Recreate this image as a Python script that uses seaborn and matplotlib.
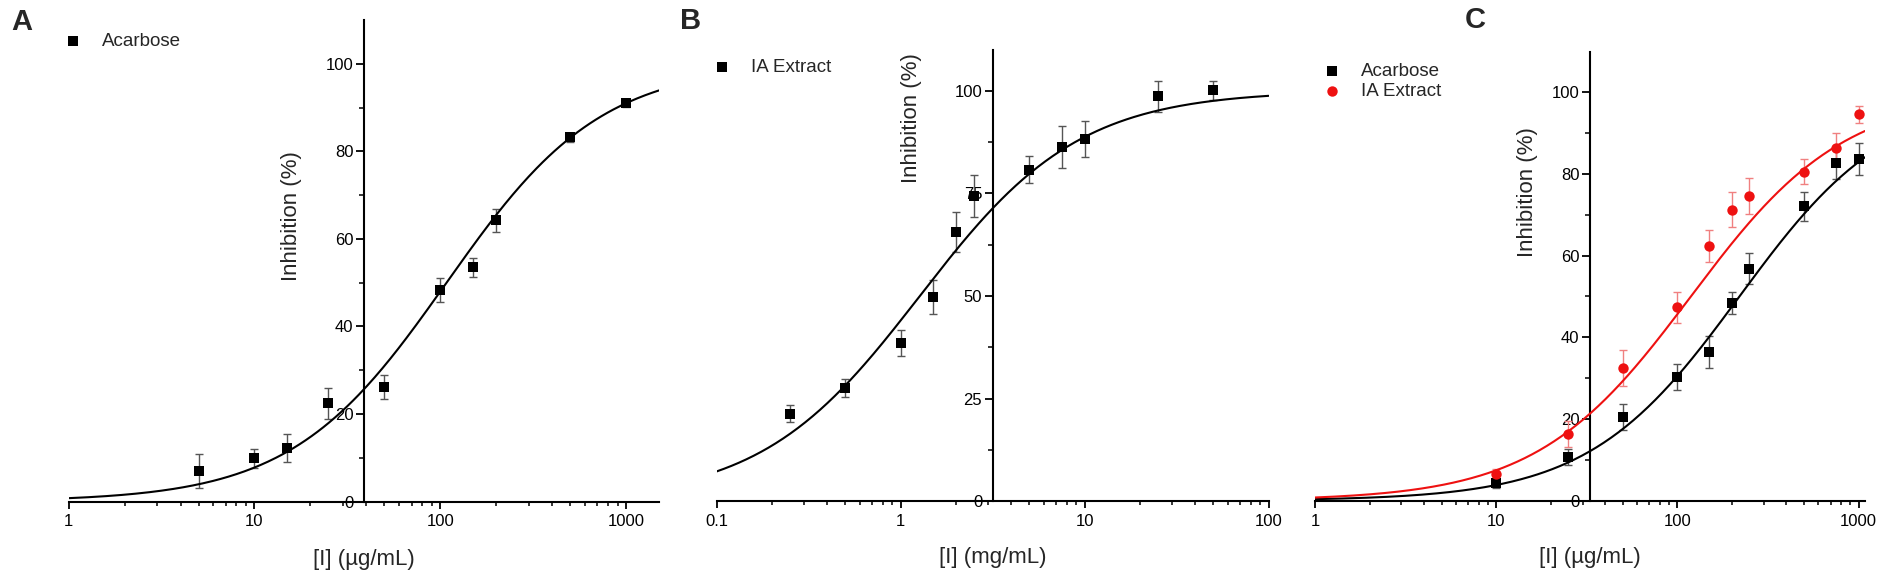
import numpy as np
import pandas as pd
import matplotlib
matplotlib.use('Agg')
import matplotlib.pyplot as plt
import matplotlib.ticker as mticker
import seaborn as sns

# ---- data ----
# A: acarbose (ug/mL)
a_conc = [5, 10, 15, 25, 50, 100, 150, 200, 500, 1000]
a_inh = [6.9, 9.9, 12.2, 22.4, 26.2, 48.3, 53.5, 64.2, 83.2, 91.1]
a_err = [3.9, 2.2, 3.2, 3.6, 2.8, 2.7, 2.1, 2.7, 1.0, 0.9]
a_fit = {'ic50': 108, 'hill': 1.04}

# B: IA extract (mg/mL)
b_conc = [0.25, 0.5, 1, 1.5, 2, 2.5, 5, 7.5, 10, 25, 50]
b_inh = [21.4, 27.6, 38.5, 49.8, 65.6, 74.4, 80.8, 86.3, 88.3, 98.6, 100.1]
b_err = [2.0, 2.1, 3.2, 4.1, 4.9, 5.1, 3.3, 5.1, 4.4, 3.7, 2.3]
b_fit = {'ic50': 1.27, 'hill': 1.0}

# C: both on the ug/mL scale
c_conc = [10, 25, 50, 100, 150, 200, 250, 500, 750, 1000]
c_aca_inh = [4.3, 10.6, 20.5, 30.3, 36.3, 48.4, 56.8, 72.1, 82.6, 83.6]
c_aca_err = [1.1, 2.0, 3.1, 3.2, 3.9, 2.7, 3.8, 3.6, 3.9, 3.9]
c_ia_inh = [6.4, 16.3, 32.4, 47.3, 62.3, 71.2, 74.6, 80.6, 86.3, 94.6]
c_ia_err = [1.4, 3.1, 4.4, 3.7, 3.9, 4.3, 4.3, 3.0, 3.8, 2.1]
c_aca_fit = {'ic50': 220, 'hill': 1.044}
c_ia_fit = {'ic50': 118.6, 'hill': 1.02}

W, H = 1902, 588

sns.set_theme(style='ticks')
plt.rcParams['font.family'] = ['Liberation Sans', 'DejaVu Sans']
plt.rcParams['axes.linewidth'] = 1.5
plt.rcParams['xtick.major.width'] = 1.3
plt.rcParams['ytick.major.width'] = 1.3
plt.rcParams['xtick.minor.width'] = 1.1
plt.rcParams['ytick.minor.width'] = 1.1
plt.rcParams['xtick.major.size'] = 5.3
plt.rcParams['ytick.major.size'] = 5.5
plt.rcParams['xtick.minor.size'] = 2.8
plt.rcParams['ytick.minor.size'] = 3.5
plt.rcParams['xtick.color'] = 'black'
plt.rcParams['ytick.color'] = 'black'
plt.rcParams['axes.edgecolor'] = 'black'

fig = plt.figure(figsize=(W / 100, H / 100), dpi=100)
fig.patch.set_facecolor('white')


def px(x0, y_top, x1, y_bot):
    return [x0 / W, 1 - y_bot / H, (x1 - x0) / W, (y_bot - y_top) / H]


def hill_curve(xlim, p):
    xs = np.logspace(np.log10(xlim[0]), np.log10(xlim[1]), 300)
    return pd.DataFrame({'x': xs, 'y': 100 / (1 + (p['ic50'] / xs) ** p['hill'])})


def style_axis(ax, xlim, ymaj, ymin, xlabel, ylab_pos, xlab_pos):
    ax.set_xscale('log')
    ax.set_xlim(*xlim)
    ax.set_ylim(0, 110)
    mid = np.sqrt(xlim[0] * xlim[1])
    ax.spines['left'].set_position(('data', mid))
    ax.spines['right'].set_visible(False)
    ax.spines['top'].set_visible(False)
    ax.xaxis.set_major_locator(mticker.LogLocator(base=10, numticks=10))
    ax.xaxis.set_minor_locator(mticker.LogLocator(base=10, subs=np.arange(2, 10), numticks=20))
    ax.xaxis.set_major_formatter(mticker.FuncFormatter(lambda v, _: f'{v:g}'))
    ax.xaxis.set_minor_formatter(mticker.NullFormatter())
    ax.yaxis.set_major_locator(mticker.FixedLocator(ymaj))
    ax.yaxis.set_minor_locator(mticker.FixedLocator(ymin))
    ax.yaxis.set_major_formatter(mticker.FuncFormatter(lambda v, _: f'{v:g}'))
    ax.tick_params(axis='both', which='both', direction='out', labelsize=12)
    ax.tick_params(axis='x', pad=4)
    ax.tick_params(axis='y', pad=2)
    ax.set_facecolor('none')
    ax.set_xlabel(xlabel, fontsize=16)
    ax.set_ylabel('Inhibition (%)', fontsize=16)
    ax.xaxis.set_label_coords(xlab_pos[0] / W, 1 - xlab_pos[1] / H, transform=fig.transFigure)
    ax.yaxis.set_label_coords(ylab_pos[0] / W, 1 - ylab_pos[1] / H, transform=fig.transFigure)


def draw_series(ax, conc, inh, err, fit, xlim, color, ecolor, marker, size, label):
    ax.errorbar(conc, inh, yerr=err, fmt='none', ecolor=ecolor, elinewidth=1.0,
                capsize=3, capthick=1.0, zorder=2)
    sns.lineplot(data=hill_curve(xlim, fit), x='x', y='y', ax=ax, color=color,
                 linewidth=1.5, zorder=3)
    sns.scatterplot(x=conc, y=inh, ax=ax, color=color, marker=marker, s=size,
                    linewidth=0, label=label, zorder=4)


def legend_at(ax, x, y):
    ax.legend(loc='upper left', bbox_to_anchor=(x / W, 1 - y / H), bbox_transform=fig.transFigure,
              frameon=False, fontsize=13.5, borderpad=0, borderaxespad=0, handlelength=1.0,
              handletextpad=1.05, labelspacing=0.15, markerscale=1.0)


# ---- panel A ----
axA = fig.add_axes(px(68.6, 20, 659, 501.5))
xlimA = (1, 1500)
draw_series(axA, a_conc, a_inh, a_err, a_fit, xlimA, 'black', '#555555', 's', 44, 'Acarbose')
style_axis(axA, xlimA, [0, 20, 40, 60, 80, 100], [10, 30, 50, 70, 90], '[I] (µg/mL)',
           (302, 216), (364, 549))
legend_at(axA, 64, 33)

# ---- panel B ----
axB = fig.add_axes(px(716.7, 49.6, 1268.6, 501.4))
xlimB = (0.1, 100)
draw_series(axB, b_conc, b_inh, b_err, b_fit, xlimB, 'black', '#555555', 's', 44, 'IA Extract')
style_axis(axB, xlimB, [0, 25, 50, 75, 100], [12.5, 37.5, 62.5, 87.5], '[I] (mg/mL)',
           (921.7, 118), (993, 547))
legend_at(axB, 713, 59)

# ---- panel C ----
axC = fig.add_axes(px(1315, 51.5, 1865, 500.6))
xlimC = (1, 1085)
draw_series(axC, c_conc, c_aca_inh, c_aca_err, c_aca_fit, xlimC, 'black', '#555555', 's', 44, 'Acarbose')
draw_series(axC, c_conc, c_ia_inh, c_ia_err, c_ia_fit, xlimC, '#ee1111', '#f08080', 'o', 56, 'IA Extract')
style_axis(axC, xlimC, [0, 20, 40, 60, 80, 100], [10, 30, 50, 70, 90], '[I] (µg/mL)',
           (1538, 191.7), (1590, 547))
legend_at(axC, 1323, 63)

# panel letters
for letter, (x, y) in zip('ABC', [(22, 22), (691, 21), (1475, 20)]):
    fig.text(x / W, 1 - y / H, letter, fontsize=21, fontweight='bold', ha='center', va='center')

fig.savefig('out.png', dpi=100, facecolor='white')
